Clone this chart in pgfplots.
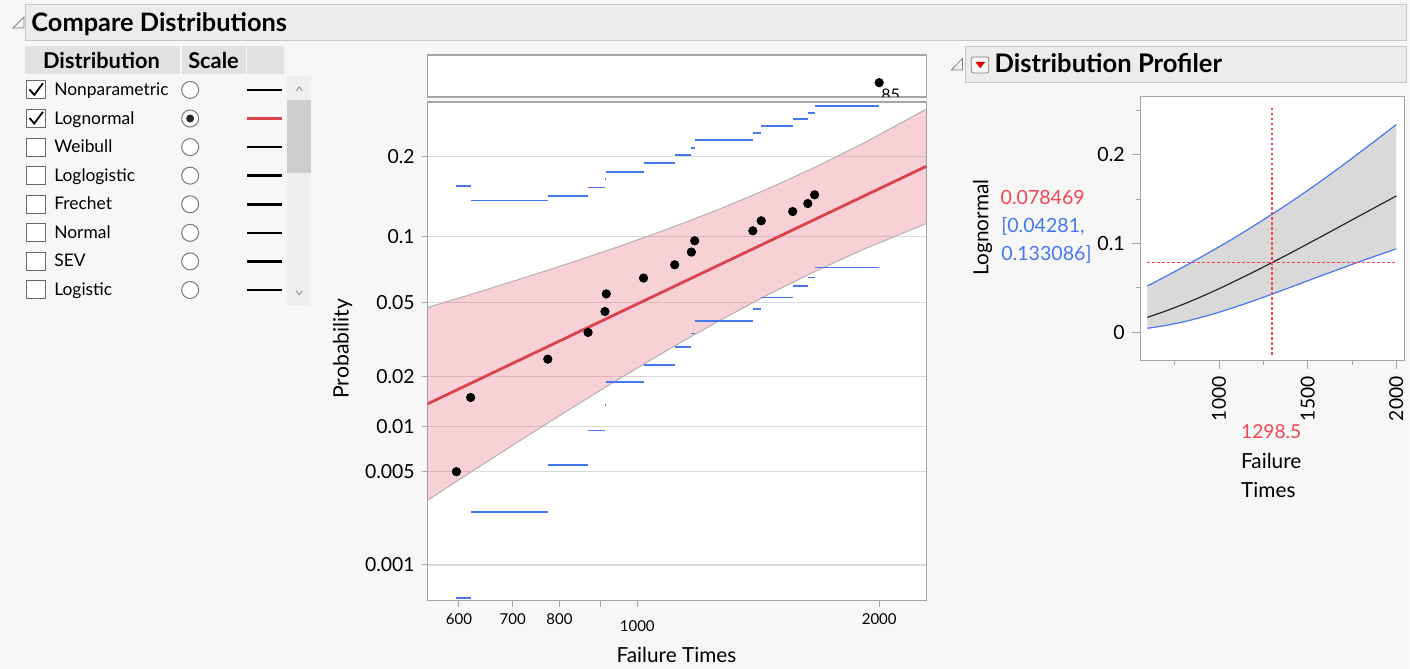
\documentclass[border=0pt]{standalone}
\usepackage{fontspec}
\setmainfont{Lato}
\usepackage{pgfplots}
\pgfplotsset{compat=1.18}

\definecolor{bg}{RGB}{247,247,247}
\definecolor{hdr}{RGB}{236,236,236}
\definecolor{hdrline}{RGB}{200,200,200}
\definecolor{cellgray}{RGB}{226,226,226}
\definecolor{track}{RGB}{239,239,239}
\definecolor{thumb}{RGB}{205,205,205}
\definecolor{arrowc}{RGB}{150,150,150}
\definecolor{boxc}{RGB}{105,105,105}
\definecolor{radioc}{RGB}{120,120,120}
\definecolor{jblue}{RGB}{70,120,238}
\definecolor{jred}{RGB}{220,65,80}
\definecolor{bandred}{RGB}{225,75,95}
\definecolor{bandedge}{RGB}{185,175,175}
\definecolor{gridc}{RGB}{218,218,218}
\definecolor{framec}{RGB}{165,165,165}
\definecolor{proffill}{RGB}{217,217,217}
\definecolor{redtxt}{RGB}{240,70,85}
\definecolor{bluetxt}{RGB}{70,120,240}
\newcommand{\fs}[1]{\fontsize{#1}{#1}\selectfont}

\begin{document}
\begin{tikzpicture}
\begin{scope}[x=0.5pt,y=-0.5pt]
\path[use as bounding box] (0,0) rectangle (1410,669);
\fill[bg] (0,0) rectangle (1410,669);
% ---------- header bar ----------
\filldraw[fill=hdr,draw=hdrline,line width=0.5pt] (26,4.5) rectangle (1408,40.5);
\filldraw[fill=white!90!gray,draw=gray,line width=0.4pt] (24,17) -- (24,28) -- (13,28) -- cycle;
\node[anchor=base west,inner sep=0] at (31,31.7) {\fs{12.7}\bfseries Compare Distributions};
% ---------- table ----------
\fill[cellgray] (25,46) rectangle (180,74);
\fill[cellgray] (181.7,46) rectangle (245.7,74);
\fill[cellgray] (247,46) rectangle (284.3,74);
\node[anchor=base west,inner sep=0] at (42.7,68.3) {\fs{10.9}\bfseries Distribution};
\node[anchor=base west,inner sep=0] at (188,68.3) {\fs{10.9}\bfseries Scale};
\fill[track] (287.3,76) rectangle (311.7,305);
\fill[thumb] (287.3,100) rectangle (311.7,172.7);
\draw[arrowc,line width=0.5pt] (296.5,91) -- (299.5,87) -- (302.5,91);
\draw[arrowc,line width=0.5pt] (296.5,291) -- (299.5,295) -- (302.5,291);
\foreach \c/\n/\lc in {90/Nonparametric/black,118.6/Lognormal/jred,147.2/Weibull/black,175.8/Loglogistic/black,204.4/Frechet/black,233/Normal/black,261.6/SEV/black,290.2/Logistic/black}{
  \filldraw[fill=white,draw=boxc,line width=0.5pt] (27,\c-9) rectangle (45.5,\c+9);
  \node[anchor=base west,inner sep=0] at (54,\c+5.5) {\fs{8.7}\n};
  \filldraw[fill=white,draw=radioc,line width=0.5pt] (190.3,\c) circle (8.5);
  \draw[\lc,line width=1.3pt] (247,\c) -- (282,\c);
}
\draw[black,line width=0.9pt] (29.5,89.5) -- (34.3,95) -- (43,83.3);
\draw[black,line width=0.9pt] (29.5,118.1) -- (34.3,123.6) -- (43,111.9);
\fill[black!85] (190.3,118.6) circle (4);
% ---------- profiler header ----------
\filldraw[fill=hdr,draw=hdrline,line width=0.5pt] (966,46.7) rectangle (1407.5,82.3);
\filldraw[fill=white!90!gray,draw=gray,line width=0.4pt] (963.3,58.5) -- (963.3,70) -- (952,70) -- cycle;
\filldraw[fill=white!94!gray,draw=gray,line width=0.4pt,rounded corners=1pt] (972,57) rectangle (989.5,73);
\fill[red!85!black] (976,61.8) -- (986,61.8) -- (981,68.3) -- cycle;
\node[anchor=base west,inner sep=0] at (995,72.3) {\fs{12.8}\bfseries Distribution Profiler};
% ---------- free labels ----------
\node[inner sep=0] at (677,655) {\fs{10.4}Failure Times};
\node[rotate=90,inner sep=0] at (343,349) {\fs{10.6}Probability};
\node[rotate=90,inner sep=0] at (983.3,227.7) {\fs{10.4}Lognormal};
\node[anchor=west,inner sep=0,text=redtxt] at (1001,198) {\fs{9.8}0.078469};
\node[anchor=west,inner sep=0,text=bluetxt] at (1001.7,226.7) {\fs{9.8}[0.04281,};
\node[anchor=west,inner sep=0,text=bluetxt] at (1001.7,255) {\fs{9.8}0.133086]};
\node[anchor=west,inner sep=0,text=redtxt] at (1241.7,431.7) {\fs{9.6}1298.5};
\node[anchor=west,inner sep=0] at (1241.7,461.7) {\fs{10.4}Failure};
\node[anchor=west,inner sep=0] at (1241.7,490) {\fs{10.4}Times};
\end{scope}

% ---------- top small panel ----------
\begin{axis}[at={(214pt,-48.5pt)},anchor=south west,width=249.5pt,height=21pt,scale only axis,
  xmode=log,xmin=548.6,xmax=2289,ymin=0,ymax=1,
  axis line style={framec,line width=0.6pt},axis background/.style={fill=white},
  xtick=\empty,ytick=\empty]
  \addplot[only marks,mark=*,mark size=2.1pt,black] coordinates {(2000,0.34)};
  \node[anchor=north west,inner sep=0] at (axis cs:2010,0.21) {\fs{8}85};
\end{axis}

% ---------- main probability plot ----------
\begin{axis}[at={(214pt,-300.5pt)},anchor=south west,width=249.5pt,height=249.5pt,scale only axis,
  xmode=log,xmin=548.6,xmax=2289,ymin=-3.286,ymax=-0.543,
  axis line style={framec,line width=0.6pt},axis background/.style={fill=white},
  ytick={-3.0902,-2.5758,-2.3263,-2.0537,-1.6449,-1.2816,-0.8416},
  yticklabels={0.001,0.005,0.01,0.02,0.05,0.1,0.2},
  ymajorgrids,grid style={gridc,line width=0.6pt},
  xtick={600,700,800,900,2000},xticklabels={600,700,800,{},2000},
  xminorticks=false,minor x tick num=0,
  extra x ticks={1000},extra x tick labels={1000},
  extra x tick style={grid=none,tick label style={font=\fs{10.8}, yshift=-3.5pt}},
  tick align=outside,major tick length=3pt,
  tick style={framec,line width=0.5pt},
  xticklabel style={font=\fs{7.5}},
  yticklabel style={font=\fs{9.7}},
  xtick pos=left,ytick pos=left,
  unbounded coords=jump]
  \addplot[fill=bandred,fill opacity=0.25,draw=none] coordinates {
    (548.6,-1.6737)(631.0,-1.5922)(724.4,-1.5094)(831.8,-1.4238)(955.0,-1.3340)(1096.5,-1.2389)
    (1258.9,-1.1369)(1445.4,-1.0261)(1659.6,-0.9051)(1905.5,-0.7735)(2289,-0.5829)
    (2289,-1.2115)(1905.5,-1.3569)(1659.6,-1.4779)(1445.4,-1.6095)(1258.9,-1.7513)(1096.5,-1.9019)
    (955.0,-2.0594)(831.8,-2.2222)(724.4,-2.3892)(631.0,-2.5590)(548.6,-2.7335)} -- cycle;
  \addplot[bandedge,line width=0.5pt] coordinates {
    (548.6,-1.6737)(631.0,-1.5922)(724.4,-1.5094)(831.8,-1.4238)(955.0,-1.3340)(1096.5,-1.2389)
    (1258.9,-1.1369)(1445.4,-1.0261)(1659.6,-0.9051)(1905.5,-0.7735)(2289,-0.5829)};
  \addplot[bandedge,line width=0.5pt] coordinates {
    (548.6,-2.7335)(631.0,-2.5590)(724.4,-2.3892)(831.8,-2.2222)(955.0,-2.0594)(1096.5,-1.9019)
    (1258.9,-1.7513)(1445.4,-1.6095)(1659.6,-1.4779)(1905.5,-1.3569)(2289,-1.2115)};
  \addplot[jred,line width=1.4pt] coordinates {(548.6,-2.2036)(2289,-0.8972)};
  \addplot[jblue,line width=0.9pt] coordinates {
    (595.6,-1.005)(620.4,-1.005)(620.4,nan)
    (620.4,-1.0857)(774,-1.0857)(774,nan)
    (774,-1.0616)(868.5,-1.0616)(868.5,nan)
    (868.5,-1.0142)(911.5,-1.0142)(911.5,nan)
    (911.5,-0.9664)(915,-0.9664)(915,nan)
    (915,-0.9279)(1018,-0.9279)(1018,nan)
    (1018,-0.8801)(1113,-0.8801)(1113,nan)
    (1113,-0.8345)(1167.6,-0.8345)(1167.6,nan)
    (1167.6,-0.7943)(1178.6,-0.7943)(1178.6,nan)
    (1178.6,-0.7536)(1392.5,-0.7536)(1392.5,nan)
    (1392.5,-0.7152)(1426.3,-0.7152)(1426.3,nan)
    (1426.3,-0.6767)(1561,-0.6767)(1561,nan)
    (1561,-0.6365)(1630,-0.6365)(1630,nan)
    (1630,-0.6052)(1662,-0.6052)(1662,nan)
    (1662,-0.5651)(2000,-0.5651)};
  \addplot[jblue,line width=0.9pt] coordinates {
    (595.6,-3.270)(620.4,-3.270)(620.4,nan)
    (620.4,-2.7988)(774,-2.7988)(774,nan)
    (774,-2.5403)(868.5,-2.5403)(868.5,nan)
    (868.5,-2.3501)(911.5,-2.3501)(911.5,nan)
    (911.5,-2.2089)(915,-2.2089)(915,nan)
    (915,-2.0841)(1018,-2.0841)(1018,nan)
    (1018,-1.9889)(1113,-1.9889)(1113,nan)
    (1113,-1.8927)(1167.6,-1.8927)(1167.6,nan)
    (1167.6,-1.8169)(1178.6,-1.8169)(1178.6,nan)
    (1178.6,-1.7470)(1392.5,-1.7470)(1392.5,nan)
    (1392.5,-1.6827)(1426.3,-1.6827)(1426.3,nan)
    (1426.3,-1.6190)(1561,-1.6190)(1561,nan)
    (1561,-1.5563)(1630,-1.5563)(1630,nan)
    (1630,-1.5090)(1662,-1.5090)(1662,nan)
    (1662,-1.4540)(2000,-1.4540)};
  \addplot[only marks,mark=*,mark size=2.1pt,black] coordinates {
    (595.6,-2.577)(620.4,-2.169)(774,-1.958)(868.5,-1.811)(911.5,-1.696)(915,-1.599)
    (1018,-1.512)(1113,-1.439)(1167.6,-1.369)(1178.6,-1.307)(1392.5,-1.252)(1426.3,-1.197)
    (1561,-1.146)(1630,-1.102)(1662,-1.054)};
\end{axis}

% ---------- profiler ----------
\begin{axis}[at={(570.85pt,-180.35pt)},anchor=south west,width=132pt,height=132pt,scale only axis,
  xmin=558.5,xmax=2047,ymin=-0.032,ymax=0.2658,
  axis line style={framec,line width=0.6pt},axis background/.style={fill=white},
  xtick={1000,1500,2000},minor xtick={750,1250,1750},
  ytick={0,0.1,0.2},minor ytick={0.05,0.15,0.25},
  tick align=outside,major tick length=4.5pt,minor tick length=2.5pt,
  tick style={framec,line width=0.5pt},
  xtick pos=left,ytick pos=left,
  /pgf/number format/assume math mode=true,
  /pgf/number format/1000 sep={},
  /pgf/number format/fixed,
  xticklabel style={rotate=90,anchor=east,font=\fs{9.6}},
  yticklabel style={font=\fs{9.8}},
  scaled ticks=false]
  \addplot[fill=proffill,draw=none] coordinates {
    (595,0.0520)(700,0.06304)(800,0.07375)(900,0.08493)(1000,0.0963)(1100,0.1081)(1200,0.12046)
    (1298.5,0.133086)(1400,0.1463)(1500,0.1600)(1600,0.1741)(1700,0.1887)(1800,0.2037)(1900,0.2189)(2000,0.2343)
    (2000,0.09396)(1900,0.08708)(1800,0.07999)(1700,0.07268)(1600,0.06535)(1500,0.05792)(1400,0.0504)
    (1298.5,0.04281)(1200,0.03571)(1100,0.02882)(1000,0.02248)(900,0.01668)(800,0.01163)(700,0.00752)(595,0.00425)} -- cycle;
  \addplot[jblue,line width=0.6pt,smooth] coordinates {
    (595,0.0520)(700,0.06304)(800,0.07375)(900,0.08493)(1000,0.0963)(1100,0.1081)(1200,0.12046)
    (1298.5,0.133086)(1400,0.1463)(1500,0.1600)(1600,0.1741)(1700,0.1887)(1800,0.2037)(1900,0.2189)(2000,0.2343)};
  \addplot[jblue,line width=0.6pt,smooth] coordinates {
    (595,0.00425)(700,0.00752)(800,0.01163)(900,0.01668)(1000,0.02248)(1100,0.02882)(1200,0.03571)
    (1298.5,0.04281)(1400,0.0504)(1500,0.05792)(1600,0.06535)(1700,0.07268)(1800,0.07999)(1900,0.08708)(2000,0.09396)};
  \addplot[black!85,line width=0.6pt,smooth] coordinates {
    (595,0.01667)(700,0.02388)(800,0.0316)(900,0.0400)(1000,0.0490)(1100,0.0586)(1200,0.06842)
    (1298.5,0.078469)(1400,0.08898)(1500,0.09963)(1600,0.11035)(1700,0.1212)(1800,0.13205)(1900,0.1429)(2000,0.1537)};
  \addplot[redtxt,line width=0.7pt,dash pattern=on 1.2pt off 1.3pt] coordinates {(1298.5,-0.0256)(1298.5,0.2564)};
  \addplot[redtxt,line width=0.7pt,dash pattern=on 1.2pt off 1.3pt] coordinates {(595,0.078469)(2000,0.078469)};
\end{axis}
\end{tikzpicture}
\end{document}
